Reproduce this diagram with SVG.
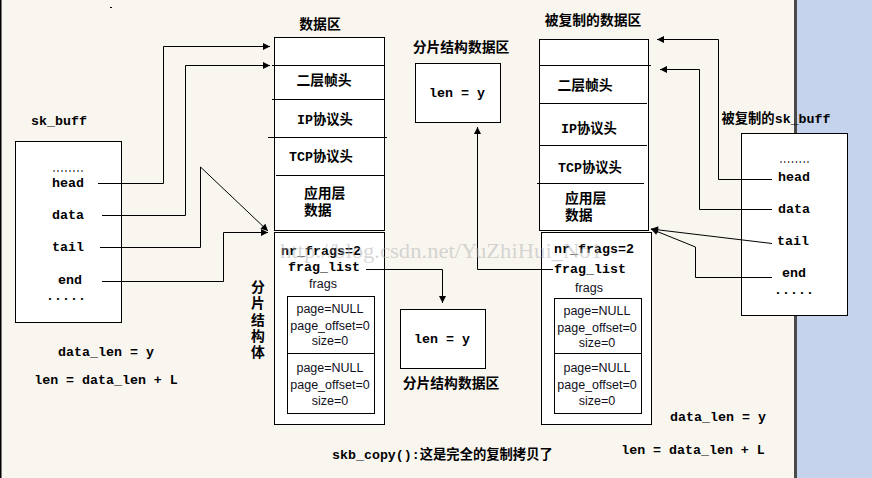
<svg xmlns="http://www.w3.org/2000/svg" width="872" height="478" viewBox="0 0 872 478">
<defs>
<marker id="arr" viewBox="0 0 10 10" refX="10" refY="5" markerWidth="8" markerHeight="7" markerUnits="userSpaceOnUse" orient="auto">
<path d="M0,0 L10,5 L0,10 z" fill="#000"/>
</marker>
<style>
.box{fill:#fff;stroke:#000;stroke-width:1}
.sep{stroke:#000;stroke-width:1}
.m{font-family:'Liberation Mono','Noto Sans CJK SC',monospace;font-weight:bold;font-size:13.3px;fill:#000}
.c{font-family:'Noto Sans CJK SC','Liberation Mono',sans-serif;font-weight:bold;font-size:13.8px;fill:#000}
.a{font-family:'Liberation Sans',Arial,sans-serif;font-size:12.5px;fill:#101020}
.mid{text-anchor:middle}
.con{fill:none;stroke:#000;stroke-width:1}
</style>
</defs>
<rect x="0" y="0" width="872" height="478" fill="#f9f6f0"/>
<rect x="797" y="0" width="75" height="478" fill="#c5d3ec"/>
<rect x="794" y="0" width="3" height="478" fill="#4a4a4a"/>
<rect x="0" y="0" width="1.5" height="478" fill="#000"/>
<rect x="110" y="7" width="2" height="1" fill="#000"/>

<g id="left-skbuff">
<text class="m mid" x="59" y="125">sk_buff</text>
<rect class="box" x="15.5" y="141.5" width="106" height="181"/>
<text class="m" x="52" y="172" font-size="8" fill="#2a3a8a" textLength="32" lengthAdjust="spacingAndGlyphs">........</text>
<text class="m mid" x="68" y="187">head</text>
<text class="m mid" x="68" y="219">data</text>
<text class="m mid" x="68" y="251">tail</text>
<text class="m mid" x="70" y="284">end</text>
<text class="m mid" x="66" y="300">.....</text>
<text class="m mid" x="106" y="356">data_len = y</text>
<text class="m mid" x="106" y="384">len = data_len + L</text>
</g>

<g id="left-data">
<text class="c mid" x="320" y="29">数据区</text>
<rect class="box" x="274.5" y="37.5" width="110" height="193"/>
<line class="sep" x1="272" y1="65.5" x2="384" y2="65.5"/>
<line class="sep" x1="272" y1="99.5" x2="384" y2="99.5"/>
<line class="sep" x1="268" y1="137.5" x2="387" y2="137.5"/>
<line class="sep" x1="276" y1="175.5" x2="384" y2="175.5"/>
<text class="c mid" x="324" y="85">二层帧头</text>
<text class="m mid" x="325" y="124">IP协议头</text>
<text class="m mid" x="321" y="161">TCP协议头</text>
<text class="c" x="304" y="198">应用层</text>
<text class="c" x="304" y="215">数据</text>
</g>

<g id="left-frag">
<rect class="box" x="274.5" y="232.5" width="110" height="192"/>
<text class="m mid" x="321" y="255">nr_frags=2</text>
<text class="m mid" x="324" y="271">frag_list</text>
<text class="a mid" x="323" y="288">frags</text>
<rect class="box" x="287.5" y="296.5" width="87" height="117"/>
<line class="sep" x1="287" y1="353.5" x2="375" y2="353.5"/>
<text class="a mid" x="330" y="313">page=NULL</text>
<text class="a mid" x="330" y="330">page_offset=0</text>
<text class="a mid" x="330" y="345">size=0</text>
<text class="a mid" x="330" y="372">page=NULL</text>
<text class="a mid" x="330" y="389">page_offset=0</text>
<text class="a mid" x="330" y="405">size=0</text>
<text class="c" x="258" y="280" style="writing-mode:vertical-rl;letter-spacing:2.4px">分片结构体</text>
</g>

<g id="frag-data-top">
<text class="c mid" x="461" y="52">分片结构数据区</text>
<rect class="box" x="415.5" y="63.5" width="85" height="59"/>
<text class="m mid" x="457" y="97">len = y</text>
</g>

<g id="frag-data-bottom">
<rect class="box" x="400.5" y="309.5" width="85" height="59"/>
<text class="m mid" x="442" y="343">len = y</text>
<text class="c mid" x="451" y="388">分片结构数据区</text>
</g>

<g id="right-data">
<text class="c mid" x="593" y="25">被复制的数据区</text>
<rect class="box" x="539.5" y="39.5" width="109" height="191"/>
<line class="sep" x1="540" y1="65.5" x2="651" y2="65.5"/>
<line class="sep" x1="540" y1="103.5" x2="647" y2="103.5"/>
<line class="sep" x1="540" y1="145.5" x2="647" y2="145.5"/>
<line class="sep" x1="537" y1="183.5" x2="644" y2="183.5"/>
<text class="c mid" x="585" y="90">二层帧头</text>
<text class="m mid" x="589" y="133">IP协议头</text>
<text class="m mid" x="590" y="172">TCP协议头</text>
<text class="c" x="565" y="203">应用层</text>
<text class="c" x="565" y="220">数据</text>
</g>

<g id="right-frag">
<rect class="box" x="541.5" y="232.5" width="110" height="192"/>
<text class="m mid" x="594" y="253">nr_frags=2</text>
<text class="m mid" x="590" y="273">frag_list</text>
<text class="a mid" x="589" y="292">frags</text>
<rect class="box" x="554.5" y="298.5" width="87" height="115"/>
<line class="sep" x1="554" y1="353.5" x2="642" y2="353.5"/>
<text class="a mid" x="597" y="315">page=NULL</text>
<text class="a mid" x="597" y="332">page_offset=0</text>
<text class="a mid" x="597" y="347">size=0</text>
<text class="a mid" x="597" y="372">page=NULL</text>
<text class="a mid" x="597" y="389">page_offset=0</text>
<text class="a mid" x="597" y="405">size=0</text>
</g>

<g id="right-skbuff">
<text class="m mid" x="776" y="123">被复制的sk_buff</text>
<rect class="box" x="741.5" y="133.5" width="106" height="182"/>
<text class="m" x="779" y="163" font-size="8" fill="#2a3a8a" textLength="31" lengthAdjust="spacingAndGlyphs">........</text>
<text class="m mid" x="794" y="181">head</text>
<text class="m mid" x="794" y="213">data</text>
<text class="m mid" x="793" y="245">tail</text>
<text class="m mid" x="794" y="277">end</text>
<text class="m mid" x="794" y="294">.....</text>
<text class="m mid" x="718" y="421">data_len = y</text>
<text class="m mid" x="693" y="454">len = data_len + L</text>
</g>

<g id="connectors">
<path class="con" d="M98,183.5 H163.5 V46.5 H270" marker-end="url(#arr)"/>
<path class="con" d="M102,215.5 H185.5 V65.5 H270" marker-end="url(#arr)"/>
<path class="con" d="M100,247.5 H200.5 V167 L268,231" marker-end="url(#arr)"/>
<path class="con" d="M102,281.5 H223.5 V232.5 H268" marker-end="url(#arr)"/>
<path class="con" d="M366,269.5 H442.5 V303" marker-end="url(#arr)"/>
<path class="con" d="M553,269.5 H477.5 V127" marker-end="url(#arr)"/>
<path class="con" d="M772,179.5 H718.5 V39.5 H657" marker-end="url(#arr)"/>
<path class="con" d="M772,209.5 H699.5 V69.5 H660" marker-end="url(#arr)"/>
<path class="con" d="M772,243.5 L651,229" marker-end="url(#arr)"/>
<path class="con" d="M772,277.5 H695.5 V247 L651,229" marker-end="url(#arr)"/>
</g>

<text class="m" x="332" y="459">skb_copy():这是完全的复制拷贝了</text>
<text x="280" y="258" font-family="'Liberation Serif',serif" font-size="21" fill="#b0b0b0" fill-opacity="0.5" textLength="322" lengthAdjust="spacingAndGlyphs">http://blog.csdn.net/YuZhiHui_No1</text>
</svg>
